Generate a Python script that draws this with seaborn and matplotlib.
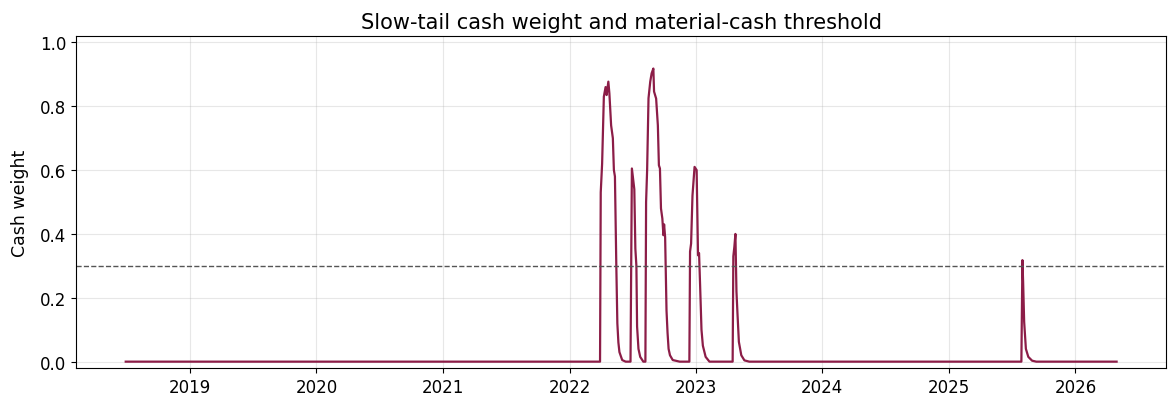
import pandas as pd
import seaborn as sns
import matplotlib.pyplot as plt

# cash weight readings (sparse: zero stretches only need their end points)
dates = [
    "2018-06-29", "2022-03-30", "2022-04-01", "2022-04-05", "2022-04-10",
    "2022-04-15", "2022-04-18", "2022-04-23", "2022-04-26", "2022-05-01",
    "2022-05-06", "2022-05-09", "2022-05-12", "2022-05-16", "2022-05-19",
    "2022-05-22", "2022-05-25", "2022-06-02", "2022-06-12", "2022-06-26",
    "2022-06-30", "2022-07-07", "2022-07-10", "2022-07-13", "2022-07-15",
    "2022-07-19", "2022-07-24", "2022-08-02", "2022-08-08", "2022-08-10",
    "2022-08-13", "2022-08-17", "2022-08-22", "2022-08-26", "2022-08-31",
    "2022-09-02", "2022-09-08", "2022-09-13", "2022-09-16", "2022-09-19",
    "2022-09-22", "2022-09-26", "2022-09-29", "2022-10-01", "2022-10-04",
    "2022-10-08", "2022-10-11", "2022-10-14", "2022-10-18", "2022-10-26",
    "2022-11-15", "2022-12-13", "2022-12-15", "2022-12-18", "2022-12-22",
    "2022-12-28", "2023-01-03", "2023-01-07", "2023-01-10", "2023-01-13",
    "2023-01-17", "2023-01-21", "2023-01-29", "2023-02-09", "2023-04-17",
    "2023-04-19", "2023-04-22", "2023-04-25", "2023-04-28", "2023-05-01",
    "2023-05-05", "2023-05-12", "2023-05-21", "2023-06-04", "2025-07-29",
    "2025-08-01", "2025-08-03", "2025-08-06", "2025-08-11", "2025-08-18",
    "2025-08-29", "2025-09-10", "2026-04-30",
]
cash_weight = [
    0.0, 0.0, 0.53, 0.62, 0.83,
    0.86, 0.835, 0.877, 0.84, 0.74,
    0.70, 0.60, 0.58, 0.30, 0.12,
    0.06, 0.03, 0.005, 0.0, 0.0,
    0.605, 0.54, 0.354, 0.30, 0.11,
    0.04, 0.015, 0.0, 0.0, 0.50,
    0.60, 0.825, 0.877, 0.903, 0.918,
    0.846, 0.824, 0.74, 0.615, 0.605,
    0.48, 0.448, 0.396, 0.43, 0.39,
    0.16, 0.09, 0.04, 0.02, 0.005,
    0.0, 0.0, 0.345, 0.37, 0.52,
    0.61, 0.60, 0.333, 0.34, 0.24,
    0.10, 0.05, 0.015, 0.0, 0.0,
    0.33, 0.36, 0.40, 0.22, 0.15,
    0.062, 0.02, 0.004, 0.0, 0.0,
    0.318, 0.25, 0.125, 0.04, 0.015,
    0.003, 0.0, 0.0,
]
threshold = 0.30

df = pd.DataFrame({"date": pd.to_datetime(dates), "cash_weight": cash_weight})

fig, ax = plt.subplots(figsize=(11.72, 4.02), dpi=100)

sns.lineplot(data=df, x="date", y="cash_weight", ax=ax,
             color="#8c1d47", linewidth=1.6)
ax.axhline(threshold, color="#555555", linestyle="--", linewidth=1.0)

ax.set_ylim(-0.02, 1.02)
ax.grid(True, alpha=0.3)
ax.set_title("Slow-tail cash weight and material-cash threshold", fontsize=15)
ax.set_xlabel("")
ax.set_ylabel("Cash weight", fontsize=12.5, labelpad=8)
ax.tick_params(labelsize=12)

fig.subplots_adjust(left=0.065, right=0.995, top=0.908, bottom=0.082)
fig.savefig("out.png", dpi=100)
